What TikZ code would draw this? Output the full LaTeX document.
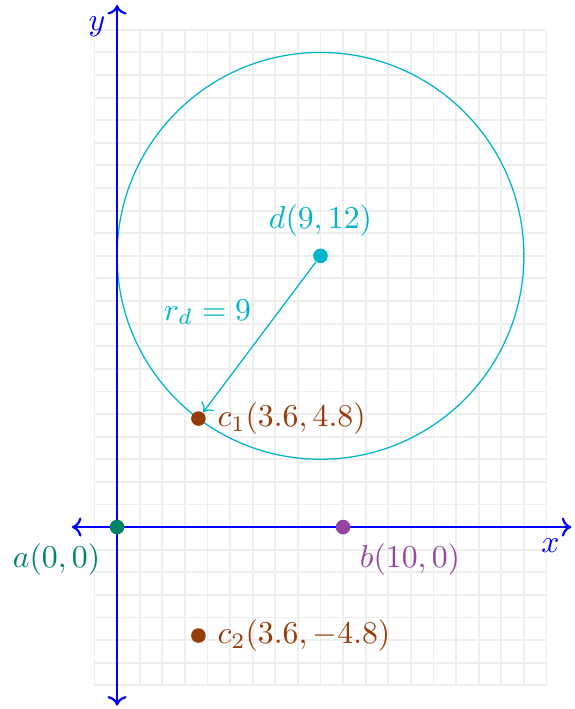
\documentclass[tikz,border=0pt]{standalone}
\usetikzlibrary{arrows.meta}
\definecolor{dcol}{RGB}{0,180,204}
\definecolor{acol}{RGB}{0,130,105}
\definecolor{bcol}{RGB}{150,70,160}
\definecolor{ccol}{RGB}{150,60,10}
\tikzset{
  dot/.style={circle, fill=#1, inner sep=0pt, minimum size=4.6pt},
  axis/.style={blue, line width=0.7pt, {To[length=3pt,width=6pt]}-{To[length=3pt,width=6pt]}},
  gridline/.style={gray!13, line width=0.6pt, step=0.25cm},
}
\begin{document}
\begin{tikzpicture}[x=0.25cm, y=0.25cm]
  \useasboundingbox (-5.18,-8.05) rectangle (20.22,23.32);
  \draw[gridline] (-1,-7) grid (19,22);
  % circle
  \draw[dcol, line width=0.4pt] (9,12) circle (9);
  % axes
  \coordinate (xl) at (-2,0);
  \coordinate (xr) at (20.1,0);
  \coordinate (yb) at (0,-7.9);
  \coordinate (yt) at (0,23.1);
  \draw[axis] (xl) -- (xr) node[below left, text=blue] {$x$};
  \draw[axis] (yb) -- (yt) node[below left, text=blue] {$y$};
  % points
  \node[dot=acol, label={[text=acol]below left:$a(0,0)$}] (a) at (0,0) {};
  \node[dot=bcol, label={[text=bcol]below right:$b(10,0)$}] (b) at (10,0) {};
  \node[dot=dcol, label={[text=dcol]above:$d(9,12)$}] (d) at (9,12) {};
  \node[dot=ccol, label={[text=ccol]right:$c_1(3.6,4.8)$}] (c1) at (3.6,4.8) {};
  \node[dot=ccol, label={[text=ccol]right:$c_2(3.6,-4.8)$}] (c2) at (3.6,-4.8) {};
  % radius arrow
  \draw[dcol, line width=0.4pt, -{To[length=2.5pt,width=5pt]}] (d) -- (c1);
  \node[text=dcol] (rd) at (4,9.5) {$r_d=9$};
\end{tikzpicture}
\end{document}
